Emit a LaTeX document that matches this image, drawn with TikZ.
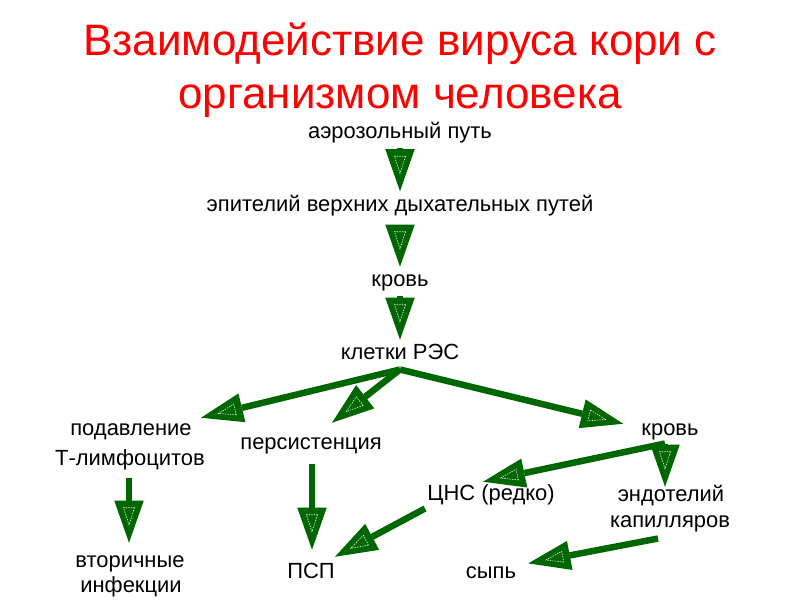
\documentclass[tikz,border=0pt]{standalone}
\usepackage{fontspec}
\setmainfont{Liberation Sans}
\usepackage{tikz}
\usetikzlibrary{arrows.meta, calc, decorations.markings}
\definecolor{mGreen}{HTML}{006600}
\definecolor{mRed}{HTML}{FF0000}

\begin{document}
\begin{tikzpicture}[
  x=0.025cm, y=-0.025cm,
  every node/.style={inner sep=0pt},
  hdr/.style={font=\fontsize{31.3}{36}\selectfont, color=mRed, anchor=base},
  lbl/.style={font=\fontsize{15.6}{18}\selectfont, anchor=base,
              text height=11pt, text depth=3pt},
  flow/.style={draw=mGreen, line width=4.6pt,
    -{Triangle[length=30pt, width=21pt, line width=0pt]},
    postaction={decorate, decoration={markings, mark=at position 1 with {
      \draw[white, line width=0.4pt, dash pattern=on 1pt off 0.8pt]
        (-35,-5.5) -- (-18,0) -- (-35,5.5) -- cycle;}}}}
]
\useasboundingbox (0,0) rectangle (800,600);

% title
\node[hdr] (ttl1) at (400,55)  {Взаимодействие вируса кори с};
\node[hdr] (ttl2) at (400,108) {организмом человека};

% main chain
\node[lbl] (aero)  at (400,138) {аэрозольный путь};
\node[lbl] (epit)  at (400,211) {эпителий верхних дыхательных путей};
\node[lbl] (blood) at (400,286) {кровь};
\node[lbl] (res)   at (400,359) {клетки РЭС};

% branches
\node[lbl] (supp)   at (131,435) {подавление};
\node[lbl] (tlym)   at (130,465) {Т-лимфоцитов};
\node[lbl] (pers)   at (311,449) {персистенция};
\node[lbl] (bloodb) at (670,435) {кровь};
\node[lbl] (cns)    at (491,500) {ЦНС (редко)};
\node[lbl] (endo)   at (671,501) {эндотелий};
\node[lbl] (capil)  at (670,527) {капилляров};
\node[lbl] (sec)    at (130,567) {вторичные};
\node[lbl] (inf)    at (131,592) {инфекции};
\node[lbl] (psp)    at (311,578) {ПСП};
\node[lbl] (rash)   at (491,578) {сыпь};

\draw[flow] ($(aero.south)+(0,5)$)  -- ($(epit.north)+(0,-4)$);
\draw[flow] ($(epit.south)+(0,10)$) -- ($(blood.north)+(0,-3.5)$);
\draw[flow] ($(blood.south)+(0,5)$) -- ($(res.north)+(0,-3.5)$);

\draw[flow] ($(res.south)+(0,6)$) -- ($(supp.north east)+(9,-1.5)$);
\draw[flow] ($(res.south)+(0,6)$) -- ($(pers.north)+(21,-10.5)$);
\draw[flow] ($(res.south)+(0,6)$) -- ($(bloodb.north west)+(-18,4.5)$);

\draw[flow] ($(tlym.south)+(-1,8)$)    -- ($(sec.north)+(-1,-8.5)$);
\draw[flow] ($(pers.south)+(1,10)$)    -- ($(psp.north)+(1,-12.5)$);
\draw[flow] ($(bloodb.south)+(-5,4)$)  -- ($(cns.north)+(-8,-2.5)$);
\draw[flow] ($(bloodb.south)+(-5,4)$)  -- ($(endo.north)+(-6,1.5)$);
\draw[flow] ($(cns.south west)+(-2,4)$) -- ($(psp.north east)+(0,-5.5)$);
\draw[flow] ($(capil.south)+(-12,7)$)  -- ($(rash.east)+(12,-9)$);
\end{tikzpicture}
\end{document}
